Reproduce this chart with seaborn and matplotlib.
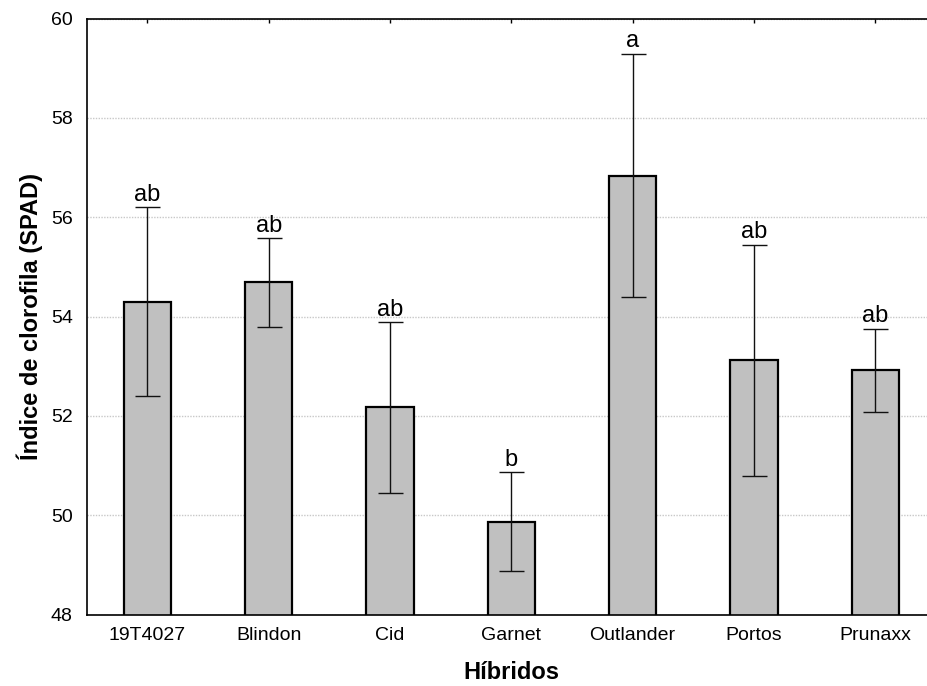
import matplotlib
matplotlib.use("Agg")
import matplotlib.pyplot as plt
import pandas as pd
import seaborn as sns

# --- Data
hibridos = ["19T4027", "Blindon", "Cid", "Garnet", "Outlander", "Portos", "Prunaxx"]
spad_mean = [54.30, 54.69, 52.17, 49.87, 56.84, 53.12, 52.92]
spad_err = [1.90, 0.89, 1.72, 1.00, 2.45, 2.33, 0.84]
letras = ["ab", "ab", "ab", "b", "a", "ab", "ab"]

df = pd.DataFrame({"hibrido": hibridos, "spad": spad_mean, "err": spad_err})

sns.set_style("white")
plt.rcParams["font.family"] = ["Liberation Sans", "DejaVu Sans"]
plt.rcParams["text.color"] = "black"
plt.rcParams["axes.labelcolor"] = "black"
plt.rcParams["xtick.color"] = "black"
plt.rcParams["ytick.color"] = "black"

fig = plt.figure(figsize=(9.27, 6.86), dpi=100)
ax = fig.add_axes([0.0935, 0.104, 0.9162, 0.869])

sns.barplot(
    data=df, x="hibrido", y="spad", ax=ax,
    color="#c0c0c0", edgecolor="black", linewidth=1.6,
    width=0.39, errorbar=None, saturation=1, zorder=2,
)
ax.errorbar(
    range(len(df)), df["spad"], yerr=df["err"], fmt="none",
    ecolor="#111111", elinewidth=1.0, capsize=9, capthick=1.0, zorder=3,
)

for i, (m, e, txt) in enumerate(zip(spad_mean, spad_err, letras)):
    ax.annotate(txt, (i, m + e), xytext=(0, 1), textcoords="offset points",
                ha="center", va="bottom", fontsize=17, color="black")

ax.set_ylim(48, 60)
ax.set_xlim(-0.5, 6.5)
ax.set_yticks([48, 50, 52, 54, 56, 58, 60])
ax.yaxis.grid(True, linestyle=(0, (1, 1)), color="#c8c8c8", linewidth=1.0, zorder=0)
ax.set_axisbelow(True)

for side in ["left", "top", "bottom"]:
    ax.spines[side].set_color("black")
    ax.spines[side].set_linewidth(1.2)
ax.spines["right"].set_visible(False)

ax.tick_params(axis="y", length=0, labelsize=14, pad=10)
ax.tick_params(axis="x", direction="in", length=3, width=1, top=True,
               labelsize=14, pad=9)

ax.set_xlabel("Híbridos", fontsize=17, fontweight="bold", labelpad=12)
ax.set_ylabel("Índice de clorofila (SPAD)", fontsize=17, fontweight="bold", labelpad=6)

fig.savefig("out.png", dpi=100)
